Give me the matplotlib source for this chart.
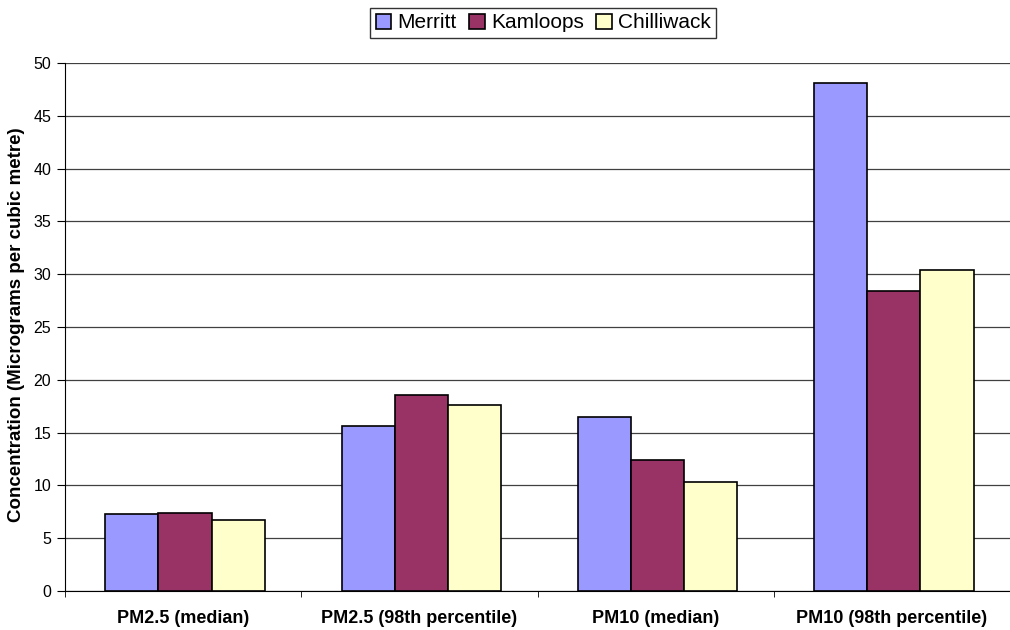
import numpy as np
import matplotlib.pyplot as plt

# data
categories = ['PM2.5 (median)', 'PM2.5 (98th percentile)', 'PM10 (median)', 'PM10 (98th percentile)']
series = ['Merritt', 'Kamloops', 'Chilliwack']
merritt = [7.3, 15.6, 16.5, 48.1]
kamloops = [7.4, 18.6, 12.4, 28.4]
chilliwack = [6.7, 17.6, 10.3, 30.4]
colors = ['#9999FF', '#993366', '#FFFFCC']

plt.rcParams['font.family'] = ['Liberation Sans', 'DejaVu Sans']

fig = plt.figure(figsize=(10.1, 6.3), dpi=100)
ax = fig.add_axes([0.0644, 0.0619, 0.9356, 0.8381])

x = np.arange(len(categories))
w = 0.225
for i, (name, vals) in enumerate(zip(series, [merritt, kamloops, chilliwack])):
    ax.bar(x + (i - 1) * w + 0.008, vals, w, color=colors[i], edgecolor='black', linewidth=1.2,
           label=name, zorder=3)

ax.set_xlim(-0.5, 3.5)
ax.set_ylim(0, 50)
ax.set_yticks(range(0, 51, 5))
ax.yaxis.grid(True, color='#404040', linewidth=0.9, zorder=0)
ax.set_xticks(x)
ax.set_xticklabels(categories, fontweight='bold', fontsize=13)
ax.tick_params(axis='x', length=0, pad=14)
ax.set_xticks(np.arange(-0.5, 3.6, 1), minor=True)
ax.tick_params(axis='x', which='minor', length=4, direction='out')
ax.tick_params(axis='y', length=6, direction='out', labelsize=11.5, pad=4)
for s in ['top', 'right']:
    ax.spines[s].set_visible(False)
ax.spines['left'].set_color('black')
ax.spines['bottom'].set_color('black')
ax.set_ylabel('Concentration (Micrograms per cubic metre)', fontweight='bold', fontsize=13.5)
ax.yaxis.set_label_coords(-0.042, 0.505)

leg = fig.legend(loc='upper center', bbox_to_anchor=(0.538, 0.987), ncol=3, fontsize=15,
                 frameon=True, fancybox=False, edgecolor='black', handlelength=0.75,
                 handleheight=0.75, handletextpad=0.3, columnspacing=0.6, borderpad=0.25,
                 borderaxespad=0)
leg.get_frame().set_linewidth(1.0)

fig.savefig('out.png', dpi=100)
